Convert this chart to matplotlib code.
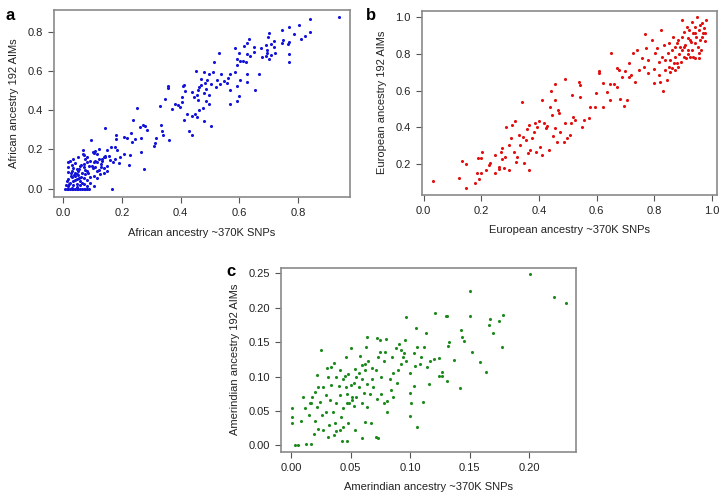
import matplotlib
matplotlib.use("Agg")
import matplotlib.pyplot as plt

plt.rcParams['font.family'] = ['Liberation Sans', 'DejaVu Sans']

# ---------------- Panel a: African ancestry ----------------
afr_x = [0.942, 0.842, 0.804, 0.771, 0.746, 0.787, 0.842, 0.824, 0.812, 0.770, 0.749, 0.745, 0.765, 0.700,
         0.698, 0.717, 0.708, 0.719, 0.691, 0.695, 0.694, 0.692, 0.708, 0.700, 0.769, 0.771, 0.721, 0.674,
         0.677, 0.632, 0.628, 0.618, 0.649, 0.651, 0.627, 0.637, 0.624, 0.612, 0.668, 0.653, 0.628, 0.626,
         0.587, 0.600, 0.592, 0.604, 0.592, 0.603, 0.594, 0.598, 0.594, 0.587, 0.569, 0.561, 0.560, 0.567,
         0.569, 0.530, 0.514, 0.509, 0.523, 0.520, 0.539, 0.548, 0.534, 0.505, 0.489, 0.486, 0.498, 0.480,
         0.453, 0.480, 0.498, 0.471, 0.482, 0.469, 0.464, 0.461, 0.455, 0.461, 0.487, 0.498, 0.476, 0.462,
         0.450, 0.457, 0.480, 0.505, 0.444, 0.439, 0.439, 0.421, 0.407, 0.412, 0.415, 0.405, 0.398, 0.404,
         0.410, 0.390, 0.381, 0.372, 0.356, 0.356, 0.347, 0.330, 0.430, 0.440, 0.332, 0.335, 0.316, 0.314,
         0.310, 0.341, 0.360, 0.284, 0.250, 0.239, 0.271, 0.260, 0.245, 0.230, 0.218, 0.233, 0.207, 0.178,
         0.180, 0.175, 0.163, 0.149, 0.143, 0.137, 0.132, 0.130, 0.114, 0.121, 0.109, 0.105, 0.109, 0.100,
         0.093, 0.086, 0.080, 0.080, 0.075, 0.071, 0.068, 0.143, 0.276, 0.265, 0.223, 0.229, 0.189, 0.194,
         0.206, 0.183, 0.177, 0.120, 0.265, 0.280,
         0.017, 0.023, 0.034, 0.051, 0.066, 0.103, 0.109, 0.017, 0.029, 0.040, 0.034, 0.046, 0.057, 0.069,
         0.080, 0.074, 0.063, 0.051, 0.040, 0.029, 0.017, 0.011, 0.023, 0.034, 0.046, 0.057, 0.069, 0.080,
         0.091, 0.103, 0.114, 0.126, 0.137, 0.149, 0.029, 0.040, 0.046, 0.057, 0.069, 0.034, 0.017, 0.080,
         0.106, 0.089, 0.166, 0.006, 0.012, 0.017, 0.023, 0.029, 0.034, 0.040, 0.046, 0.051, 0.057, 0.063,
         0.069, 0.075, 0.080, 0.097, 0.114, 0.131, 0.143, 0.154, 0.160, 0.171, 0.149, 0.137, 0.120,
         0.050, 0.055, 0.060, 0.045, 0.035, 0.025, 0.020, 0.030, 0.045, 0.060, 0.065, 0.075, 0.085, 0.055,
         0.038, 0.025, 0.010, 0.015, 0.090, 0.100, 0.115, 0.130, 0.090, 0.070]
afr_y = [0.875, 0.866, 0.834, 0.827, 0.812, 0.788, 0.801, 0.781, 0.765, 0.748, 0.757, 0.741, 0.736, 0.794,
         0.772, 0.755, 0.738, 0.722, 0.734, 0.710, 0.690, 0.678, 0.681, 0.663, 0.688, 0.647, 0.693, 0.719,
         0.673, 0.764, 0.741, 0.726, 0.721, 0.700, 0.687, 0.676, 0.647, 0.649, 0.587, 0.505, 0.584, 0.546,
         0.716, 0.692, 0.664, 0.649, 0.630, 0.553, 0.524, 0.473, 0.447, 0.597, 0.586, 0.567, 0.539, 0.502,
         0.433, 0.690, 0.644, 0.597, 0.553, 0.519, 0.584, 0.551, 0.536, 0.534, 0.556, 0.508, 0.476, 0.488,
         0.599, 0.596, 0.587, 0.562, 0.539, 0.531, 0.519, 0.505, 0.476, 0.454, 0.445, 0.430, 0.413, 0.399,
         0.382, 0.365, 0.344, 0.322, 0.467, 0.493, 0.373, 0.382, 0.524, 0.531, 0.498, 0.467, 0.419, 0.440,
         0.348, 0.425, 0.433, 0.407, 0.524, 0.515, 0.459, 0.423, 0.296, 0.272, 0.325, 0.294, 0.260, 0.233,
         0.220, 0.272, 0.250, 0.300, 0.411, 0.351, 0.327, 0.312, 0.253, 0.282, 0.259, 0.236, 0.265, 0.272,
         0.252, 0.211, 0.211, 0.199, 0.168, 0.159, 0.142, 0.125, 0.176, 0.152, 0.142, 0.134, 0.108, 0.185,
         0.248, 0.115, 0.134, 0.163, 0.149, 0.173, 0.195, 0.308, 0.099, 0.185, 0.122, 0.170, 0.129, 0.160,
         0.177, 0.197, 0.151, 0.202, 0.260, 0.320,
         0.137, 0.142, 0.151, 0.160, 0.177, 0.184, 0.194, 0.108, 0.122, 0.129, 0.105, 0.100, 0.117, 0.108,
         0.091, 0.074, 0.082, 0.070, 0.065, 0.057, 0.048, 0.039, 0.031, 0.039, 0.048, 0.039, 0.053, 0.043,
         0.060, 0.065, 0.053, 0.074, 0.082, 0.091, 0.091, 0.082, 0.022, 0.019, 0.022, 0.017, 0.014, 0.014,
         0.014, 0.000, 0.000, 0.000, 0.000, 0.000, 0.000, 0.000, 0.000, 0.000, 0.000, 0.000, 0.000, 0.000,
         0.000, 0.000, 0.000, 0.117, 0.134, 0.151, 0.160, 0.168, 0.146, 0.134, 0.117, 0.105, 0.094,
         0.090, 0.100, 0.120, 0.075, 0.070, 0.080, 0.025, 0.005, 0.008, 0.060, 0.030, 0.095, 0.080, 0.055,
         0.045, 0.065, 0.020, 0.085, 0.030, 0.105, 0.090, 0.110, 0.140, 0.125]

# ---------------- Panel b: European ancestry ----------------
eur_x = [0.031, 0.121, 0.133, 0.147, 0.147, 0.179, 0.185, 0.193, 0.187, 0.199, 0.202, 0.199, 0.216, 0.225,
         0.231, 0.249, 0.249, 0.260, 0.262, 0.272, 0.267, 0.272, 0.277, 0.283, 0.285, 0.295, 0.297, 0.302,
         0.306, 0.312, 0.318, 0.320, 0.324, 0.329, 0.335, 0.341, 0.343, 0.347, 0.355, 0.357, 0.361, 0.364,
         0.366, 0.370, 0.376, 0.382, 0.387, 0.390, 0.393, 0.399, 0.405, 0.410, 0.410, 0.416, 0.424, 0.429,
         0.434, 0.440, 0.442, 0.445, 0.448, 0.454, 0.457, 0.457, 0.462, 0.465, 0.468, 0.474, 0.486, 0.490,
         0.491, 0.497, 0.509, 0.511, 0.514, 0.517, 0.526, 0.538, 0.543, 0.543, 0.549, 0.555, 0.572, 0.578,
         0.595, 0.598, 0.607, 0.609, 0.621, 0.624, 0.636, 0.647, 0.647, 0.650, 0.662, 0.671, 0.671, 0.678,
         0.682, 0.688, 0.694, 0.699, 0.705, 0.711, 0.714, 0.720, 0.725, 0.734, 0.740, 0.746, 0.757, 0.763,
         0.769, 0.771, 0.778, 0.780, 0.792, 0.798, 0.801, 0.803, 0.809, 0.815, 0.818, 0.821, 0.824, 0.827,
         0.832, 0.835, 0.838, 0.844, 0.847, 0.850, 0.855, 0.861, 0.867, 0.870, 0.873, 0.879, 0.884, 0.890,
         0.896, 0.898, 0.902, 0.905, 0.908, 0.910, 0.913, 0.917, 0.919, 0.922, 0.925, 0.928, 0.931, 0.934,
         0.936, 0.940, 0.942, 0.946, 0.948, 0.951, 0.954, 0.956, 0.960, 0.965, 0.971, 0.974, 0.977, 0.979,
         0.873, 0.886, 0.893, 0.917, 0.931, 0.942, 0.963, 0.965, 0.977, 0.873, 0.850, 0.838, 0.863, 0.884,
         0.905, 0.925, 0.942, 0.954, 0.960, 0.896, 0.879, 0.855]
eur_y = [0.109, 0.125, 0.215, 0.200, 0.071, 0.095, 0.149, 0.118, 0.231, 0.233, 0.267, 0.149, 0.167, 0.195,
         0.204, 0.249, 0.149, 0.185, 0.173, 0.225, 0.267, 0.285, 0.176, 0.240, 0.400, 0.167, 0.305, 0.342,
         0.415, 0.267, 0.433, 0.213, 0.240, 0.358, 0.305, 0.540, 0.349, 0.205, 0.331, 0.393, 0.258, 0.167,
         0.411, 0.276, 0.340, 0.376, 0.422, 0.267, 0.400, 0.436, 0.295, 0.249, 0.549, 0.422, 0.395, 0.407,
         0.276, 0.513, 0.596, 0.467, 0.353, 0.636, 0.549, 0.395, 0.322, 0.495, 0.476, 0.376, 0.322, 0.662,
         0.422, 0.340, 0.358, 0.425, 0.576, 0.456, 0.440, 0.649, 0.631, 0.567, 0.404, 0.440, 0.449, 0.513,
         0.513, 0.589, 0.709, 0.695, 0.509, 0.640, 0.595, 0.636, 0.549, 0.804, 0.636, 0.618, 0.722, 0.713,
         0.556, 0.676, 0.518, 0.709, 0.549, 0.676, 0.749, 0.685, 0.804, 0.649, 0.822, 0.713, 0.776, 0.731,
         0.907, 0.831, 0.767, 0.695, 0.876, 0.718, 0.640, 0.804, 0.831, 0.685, 0.758, 0.649, 0.931, 0.782,
         0.598, 0.849, 0.713, 0.658, 0.807, 0.862, 0.767, 0.822, 0.895, 0.749, 0.785, 0.862, 0.731, 0.840,
         0.985, 0.895, 0.785, 0.922, 0.849, 0.776, 0.949, 0.885, 0.822, 0.931, 0.785, 0.867, 0.976, 0.913,
         0.785, 0.858, 0.949, 0.895, 1.000, 0.840, 0.931, 0.776, 0.876, 0.967, 0.913, 0.940, 0.871, 0.985,
         0.713, 0.800, 0.758, 0.800, 0.822, 0.776, 0.822, 0.895, 0.913, 0.840, 0.731, 0.767, 0.722, 0.876,
         0.840, 0.876, 0.913, 0.804, 0.958, 0.822, 0.749, 0.704]

# ---------------- Panel c: Amerindian ancestry ----------------
ame_x = [0.201, 0.150, 0.150, 0.178, 0.175, 0.167, 0.166, 0.170, 0.177, 0.164, 0.159, 0.152, 0.143, 0.144,
         0.145, 0.142, 0.137, 0.133, 0.132, 0.130, 0.131, 0.131, 0.127, 0.127, 0.124, 0.121, 0.124, 0.120,
         0.117, 0.114, 0.116, 0.113, 0.112, 0.109, 0.108, 0.105, 0.104, 0.111, 0.106, 0.103, 0.101, 0.100,
         0.100, 0.097, 0.100, 0.096, 0.095, 0.094, 0.092, 0.091, 0.090, 0.088, 0.086, 0.085, 0.084, 0.083,
         0.081, 0.080, 0.079, 0.078, 0.076, 0.075, 0.075, 0.073, 0.072, 0.071, 0.069, 0.068, 0.066, 0.065,
         0.064, 0.064, 0.063, 0.062, 0.061, 0.060, 0.060, 0.058, 0.057, 0.055, 0.054, 0.053, 0.051, 0.050,
         0.050, 0.048, 0.047, 0.046, 0.046, 0.044, 0.044, 0.042, 0.041, 0.041, 0.040, 0.038, 0.037, 0.036,
         0.035, 0.034, 0.033, 0.032, 0.031, 0.030, 0.029, 0.029, 0.027, 0.026, 0.025, 0.024, 0.023, 0.022,
         0.022, 0.020, 0.019, 0.018, 0.017, 0.016, 0.015, 0.013, 0.012, 0.010, 0.008, 0.006, 0.003, 0.001,
         0.001, 0.001, 0.045, 0.047, 0.049, 0.053, 0.055, 0.060, 0.062, 0.064, 0.067, 0.071, 0.073, 0.060,
         0.054, 0.072, 0.076, 0.078, 0.081, 0.086, 0.089, 0.092, 0.097, 0.103, 0.106, 0.038, 0.041, 0.034,
         0.031, 0.027, 0.023, 0.020, 0.017, 0.038, 0.044, 0.048, 0.047, 0.043, 0.036, 0.051, 0.057, 0.062,
         0.068, 0.221, 0.231]
ame_y = [0.249, 0.224, 0.188, 0.190, 0.181, 0.184, 0.175, 0.163, 0.143, 0.107, 0.121, 0.136, 0.168, 0.157,
         0.152, 0.084, 0.124, 0.151, 0.145, 0.188, 0.188, 0.094, 0.106, 0.101, 0.101, 0.193, 0.127, 0.126,
         0.122, 0.114, 0.089, 0.163, 0.143, 0.129, 0.119, 0.170, 0.116, 0.063, 0.026, 0.087, 0.061, 0.042,
         0.076, 0.187, 0.105, 0.153, 0.134, 0.129, 0.138, 0.148, 0.110, 0.141, 0.071, 0.129, 0.080, 0.097,
         0.065, 0.155, 0.136, 0.122, 0.100, 0.153, 0.136, 0.129, 0.156, 0.109, 0.085, 0.097, 0.074, 0.122,
         0.158, 0.089, 0.143, 0.109, 0.076, 0.096, 0.117, 0.130, 0.085, 0.100, 0.111, 0.057, 0.071, 0.088,
         0.141, 0.104, 0.061, 0.128, 0.085, 0.054, 0.096, 0.041, 0.073, 0.022, 0.086, 0.061, 0.032, 0.120,
         0.049, 0.088, 0.066, 0.029, 0.012, 0.112, 0.073, 0.049, 0.022, 0.044, 0.138, 0.063, 0.024, 0.102,
         0.056, 0.036, 0.017, 0.071, 0.002, 0.061, 0.044, 0.002, 0.054, 0.071, 0.036, 0.001, 0.001, 0.041,
         0.032, 0.055, 0.101, 0.075, 0.061, 0.090, 0.071, 0.061, 0.034, 0.056, 0.032, 0.012, 0.011, 0.011,
         0.022, 0.068, 0.075, 0.061, 0.049, 0.105, 0.090, 0.119, 0.122, 0.134, 0.143, 0.100, 0.109, 0.114,
         0.100, 0.085, 0.085, 0.078, 0.061, 0.021, 0.026, 0.032, 0.007, 0.006, 0.015, 0.066, 0.105, 0.119,
         0.112, 0.216, 0.207]

W, H = 725, 495
fig = plt.figure(figsize=(W / 100, H / 100), dpi=100)


def frac(l, t, r, b):
    return [l / W, 1 - b / H, (r - l) / W, (b - t) / H]


panels = [
    dict(rect=frac(54, 10, 350, 197), x=afr_x, y=afr_y, color='#1414d8',
         xlim=(-0.032, 0.978), ylim=(-0.043, 0.912),
         xt=[0.0, 0.2, 0.4, 0.6, 0.8], yt=[0.0, 0.2, 0.4, 0.6, 0.8], fmt='{:.1f}',
         xl='African ancestry ~370K SNPs', yl='African ancestry 192 AIMs', letter='a',
         lpos=(5, 16)),
    dict(rect=frac(422, 10.5, 717, 194.5), x=eur_x, y=eur_y, color='#e01010',
         xlim=(-0.006, 1.018), ylim=(0.034, 1.037),
         xt=[0.0, 0.2, 0.4, 0.6, 0.8, 1.0], yt=[0.2, 0.4, 0.6, 0.8, 1.0], fmt='{:.1f}',
         xl='European ancestry ~370K SNPs', yl='European ancestry 192 AIMs', letter='b',
         lpos=(366, 16)),
    dict(rect=frac(281, 268, 575.5, 451.5), x=ame_x, y=ame_y, color='#1c8a1c',
         xlim=(-0.0084, 0.239), ylim=(-0.009, 0.258),
         xt=[0.0, 0.05, 0.10, 0.15, 0.20], yt=[0.0, 0.05, 0.10, 0.15, 0.20, 0.25], fmt='{:.2f}',
         xl='Amerindian ancestry ~370K SNPs', yl='Amerindian ancestry 192 AIMs', letter='c',
         lpos=(226, 272)),
]

for p in panels:
    ax = fig.add_axes(p['rect'])
    ax.scatter(p['x'], p['y'], s=5, c=p['color'], linewidths=0)
    ax.set_xlim(*p['xlim'])
    ax.set_ylim(*p['ylim'])
    ax.set_xticks(p['xt'])
    ax.set_yticks(p['yt'])
    ax.set_xticklabels([p['fmt'].format(v) for v in p['xt']], fontsize=8, color='#222222')
    ax.set_yticklabels([p['fmt'].format(v) for v in p['yt']], fontsize=8, color='#222222')
    ax.tick_params(length=4, width=0.8, color='#555555', pad=4)
    for s in ax.spines.values():
        s.set_color('#8a8a8a')
        s.set_linewidth(1.2)
    ax.set_xlabel(p['xl'], fontsize=8, color='#222222', labelpad=7)
    ax.set_ylabel(p['yl'], fontsize=8, color='#222222', labelpad=6)
    fig.text(p['lpos'][0] / W, 1 - p['lpos'][1] / H, p['letter'], fontsize=12,
             fontweight='bold', ha='left', va='center')

fig.savefig('out.png', dpi=100)
